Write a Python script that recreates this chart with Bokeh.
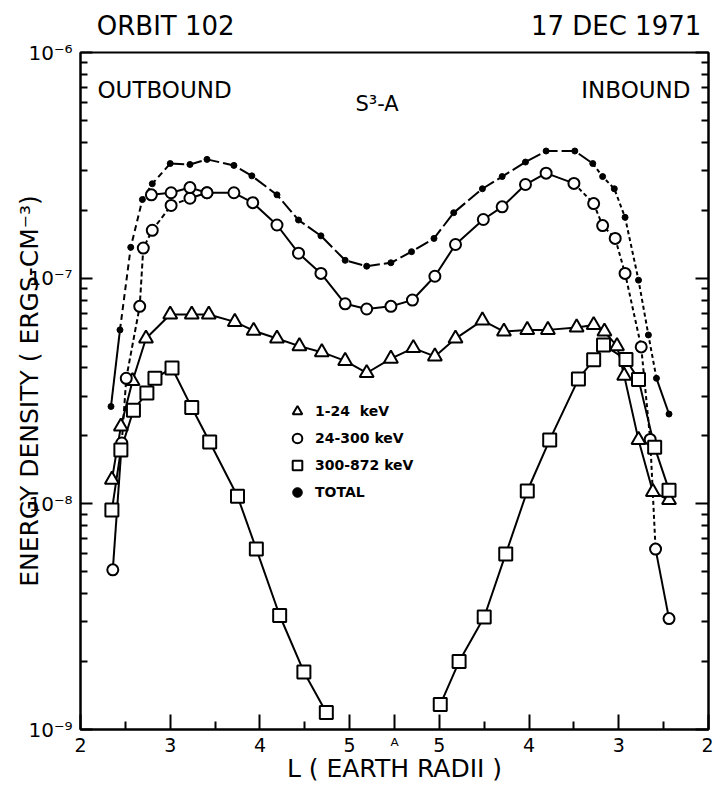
import math
from bokeh.plotting import figure
from bokeh.models import (Range1d, FixedTicker, LogAxis, LinearAxis, Label, Legend, LegendItem)
from bokeh.embed import file_html
from bokeh.resources import INLINE

# Position along the pass (x axis): outbound L = pos (2 .. 5.5 = apogee "A"),
# inbound L = 11 - pos (5.5 .. 2).
x_ticks = [2, 3, 4, 5, 5.5, 6, 7, 8, 9]
x_tick_labels = ["2", "3", "4", "5", "\u1d2c", "5", "4", "3", "2"]
x_half_ticks = [2.5, 3.5, 4.5, 6.5, 7.5, 8.5]

y_decades = [1e-9, 1e-8, 1e-7, 1e-6]
y_decade_labels = ["10\u207b\u2079", "10\u207b\u2078", "10\u207b\u2077", "10\u207b\u2076"]

header_texts = ["ORBIT 102", "17 DEC 1971"]

# TOTAL (filled dots)
total_pos = [2.34, 2.44, 2.56, 2.69, 2.80, 3.00, 3.22, 3.41, 3.71, 3.91, 4.19, 4.43,
             4.68, 4.95, 5.19, 5.46, 5.69, 5.94, 6.16, 6.48, 6.70, 6.96, 7.19, 7.51,
             7.71, 7.82, 7.95, 8.07, 8.22, 8.33, 8.42, 8.56]
total_val = [2.7e-8, 5.9e-8, 1.37e-7, 2.23e-7, 2.62e-7, 3.22e-7, 3.19e-7, 3.36e-7,
             3.16e-7, 2.84e-7, 2.34e-7, 1.81e-7, 1.54e-7, 1.20e-7, 1.13e-7, 1.17e-7,
             1.31e-7, 1.50e-7, 1.95e-7, 2.49e-7, 2.82e-7, 3.27e-7, 3.66e-7, 3.66e-7,
             3.22e-7, 2.82e-7, 2.49e-7, 1.86e-7, 9.8e-8, 5.6e-8, 3.6e-8, 2.5e-8]

# 24-300 keV (open circles)
e24_pos = [2.36, 2.46, 2.51, 2.66, 2.70, 2.80, 3.01, 3.22, 3.41, 3.71, 3.92, 4.19,
           4.43, 4.68, 4.95, 5.19, 5.46, 5.70, 5.95, 6.18, 6.49, 6.70, 6.96, 7.19,
           7.50, 7.72, 7.82, 7.96, 8.07, 8.25, 8.35, 8.41, 8.56]
e24_val = [5.1e-9, 1.86e-8, 3.6e-8, 7.5e-8, 1.36e-7, 1.63e-7, 2.10e-7, 2.26e-7,
           2.39e-7, 2.39e-7, 2.16e-7, 1.72e-7, 1.29e-7, 1.05e-7, 7.7e-8, 7.3e-8,
           7.5e-8, 8.0e-8, 1.02e-7, 1.41e-7, 1.82e-7, 2.07e-7, 2.60e-7, 2.92e-7,
           2.63e-7, 2.14e-7, 1.71e-7, 1.50e-7, 1.05e-7, 4.96e-8, 1.93e-8, 6.3e-9, 3.1e-9]
# second 24-300 keV trace near L = 3 outbound
e24b_pos = [2.79, 3.01, 3.22, 3.41]
e24b_val = [2.34e-7, 2.39e-7, 2.52e-7, 2.39e-7]

# 1-24 keV (open triangles)
e1_pos = [2.35, 2.45, 2.58, 2.73, 3.00, 3.24, 3.43, 3.72, 3.93, 4.19, 4.44, 4.69,
          4.95, 5.19, 5.46, 5.71, 5.95, 6.18, 6.48, 6.72, 6.98, 7.21, 7.53, 7.72,
          7.84, 7.98, 8.06, 8.22, 8.38, 8.56]
e1_val = [1.28e-8, 2.2e-8, 3.5e-8, 5.4e-8, 6.9e-8, 6.9e-8, 6.9e-8, 6.4e-8, 5.85e-8,
          5.4e-8, 5.0e-8, 4.7e-8, 4.3e-8, 3.8e-8, 4.4e-8, 4.9e-8, 4.5e-8, 5.4e-8,
          6.5e-8, 5.8e-8, 5.9e-8, 5.9e-8, 6.05e-8, 6.2e-8, 5.8e-8, 5.0e-8, 3.7e-8,
          1.92e-8, 1.13e-8, 1.04e-8]

# 300-872 keV (open squares), outbound and inbound legs
e300_out_pos = [2.35, 2.45, 2.59, 2.74, 2.83, 3.02, 3.24, 3.44, 3.75, 3.96, 4.22, 4.49, 4.74]
e300_out_val = [9.4e-9, 1.73e-8, 2.6e-8, 3.1e-8, 3.6e-8, 4.0e-8, 2.67e-8, 1.88e-8,
                1.08e-8, 6.3e-9, 3.2e-9, 1.8e-9, 1.19e-9]
e300_in_pos = [6.01, 6.22, 6.50, 6.74, 6.98, 7.23, 7.55, 7.72, 7.83, 8.08, 8.22, 8.40, 8.56]
e300_in_val = [1.29e-9, 2.0e-9, 3.15e-9, 6.0e-9, 1.14e-8, 1.92e-8, 3.57e-8, 4.35e-8,
               5.06e-8, 4.36e-8, 3.56e-8, 1.78e-8, 1.15e-8]

legend_labels = ["1-24  keV", "24-300 keV", "300-872 keV", "TOTAL"]

# ---- line-style runs (index ranges) ----
total_runs = [(0, 1, "solid"), (1, 5, "6 4"), (5, 24, "14 4"), (24, 30, "4 3"), (30, 31, "solid")]
e24_runs = [(0, 1, "solid"), (1, 7, "5 3"), (7, 24, "solid"), (24, 31, "4 3"), (31, 32, "solid")]

FONT = "DejaVu Sans"
LW = 2

p = figure(width=713, height=785, x_range=Range1d(2, 9), y_range=Range1d(1e-9, 1e-6),
           y_axis_type="log", output_backend="svg", toolbar_location=None,
           min_border_left=80, min_border_right=5, min_border_top=52, min_border_bottom=55)
p.grid.visible = False
p.outline_line_color = "black"
p.outline_line_width = 2

minor_y = [m * d for d in y_decades[:-1] for m in range(2, 10)]
yax = p.yaxis[0]
yax.ticker = FixedTicker(ticks=y_decades, minor_ticks=minor_y)
yax.major_label_overrides = dict(zip(y_decades, y_decade_labels))
yax.axis_label = "ENERGY DENSITY ( ERGS-CM\u207b\u00b3)"
yax.axis_label_standoff = -19

rax = LogAxis(ticker=FixedTicker(ticks=y_decades, minor_ticks=minor_y),
              major_label_text_font_size="0px", major_label_standoff=0,
              major_label_overrides={d: "" for d in y_decades})
p.add_layout(rax, "right")

xax = p.xaxis[0]
xax.ticker = FixedTicker(ticks=x_ticks, minor_ticks=x_half_ticks)
xax.major_label_overrides = dict(zip(x_ticks, x_tick_labels))
xax.axis_label = "L ( EARTH RADII )"

for ax in (yax, rax, xax):
    ax.major_tick_out = 0
    ax.minor_tick_out = 0
    ax.minor_tick_in = 7
    ax.axis_line_width = LW
    ax.major_tick_line_width = LW
    ax.minor_tick_line_width = LW
    ax.axis_line_color = "black"
    ax.major_tick_line_color = "black"
    ax.minor_tick_line_color = "black"
    ax.major_label_text_color = "black"
    ax.major_label_text_font = FONT
    ax.axis_label_text_color = "black"
    ax.axis_label_text_font = FONT
    ax.axis_label_text_font_size = "25px"
    ax.axis_label_text_font_style = "normal"

yax.major_tick_in = 12
rax.major_tick_in = 13
xax.major_tick_in = 15
xax.minor_tick_in = 8
yax.major_label_text_font_size = "20px"
yax.major_label_standoff = 8
xax.major_label_text_font_size = "19px"
xax.major_label_standoff = 4
xax.axis_label_standoff = -5

# header line above the frame: an unlined top axis carrying the two heading texts
head_at = [2.95, 7.97]
top = LinearAxis(ticker=FixedTicker(ticks=head_at, minor_ticks=[]),
                 major_label_overrides=dict(zip(head_at, header_texts)),
                 axis_line_color=None, major_tick_line_color=None, minor_tick_line_color=None,
                 major_tick_in=0, major_tick_out=0, minor_tick_in=0, minor_tick_out=0,
                 major_label_standoff=12, major_label_text_font=FONT,
                 major_label_text_font_size="26px", major_label_text_color="black")
p.add_layout(top, "above")


def draw_runs(xs, ys, runs):
    for i0, i1, dash in runs:
        p.line(xs[i0:i1 + 1], ys[i0:i1 + 1], line_color="black", line_width=LW, line_dash=dash)


draw_runs(total_pos, total_val, total_runs)
draw_runs(e24_pos, e24_val, e24_runs)
p.line(e24b_pos, e24b_val, line_color="black", line_width=LW)
p.line(e1_pos, e1_val, line_color="black", line_width=LW)
p.line(e300_out_pos, e300_out_val, line_color="black", line_width=LW)
p.line(e300_in_pos, e300_in_val, line_color="black", line_width=LW)

tri_r = p.scatter(e1_pos, e1_val, marker="triangle", size=14, fill_color="white",
                  line_color="black", line_width=LW)
circ_r = p.scatter(e24_pos, e24_val, marker="circle", size=11, fill_color="white",
                   line_color="black", line_width=LW)
p.scatter(e24b_pos, e24b_val, marker="circle", size=11, fill_color="white",
          line_color="black", line_width=LW)
sq_r = p.scatter(e300_out_pos + e300_in_pos, e300_out_val + e300_in_val, marker="square",
                 size=13, fill_color="white", line_color="black", line_width=LW)
tot_r = p.scatter(total_pos, total_val, marker="circle", size=6, fill_color="black",
                  line_color="black")

legend = Legend(items=[LegendItem(label=legend_labels[0], renderers=[tri_r]),
                       LegendItem(label=legend_labels[1], renderers=[circ_r]),
                       LegendItem(label=legend_labels[2], renderers=[sq_r]),
                       LegendItem(label=legend_labels[3], renderers=[tot_r])],
                location=(205, 225), border_line_alpha=0, background_fill_alpha=0,
                padding=0, margin=0, spacing=3, glyph_width=24, glyph_height=24,
                label_standoff=6, label_text_font=FONT, label_text_font_size="14px",
                label_text_font_style="bold", label_text_color="black")
p.add_layout(legend)


def txt(text, x, y, size, align="left"):
    p.add_layout(Label(text=text, x=x, y=y, x_units="screen", y_units="screen", text_font=FONT,
                       text_font_size=size, text_align=align, text_baseline="alphabetic",
                       text_color="black"))


txt("OUTBOUND", 17, 640, "23px")
txt("INBOUND", 610, 640, "23px", align="right")
txt("S\u00b3-A", 275, 626, "21px")

open("out.html", "w").write(file_html(p, INLINE))
